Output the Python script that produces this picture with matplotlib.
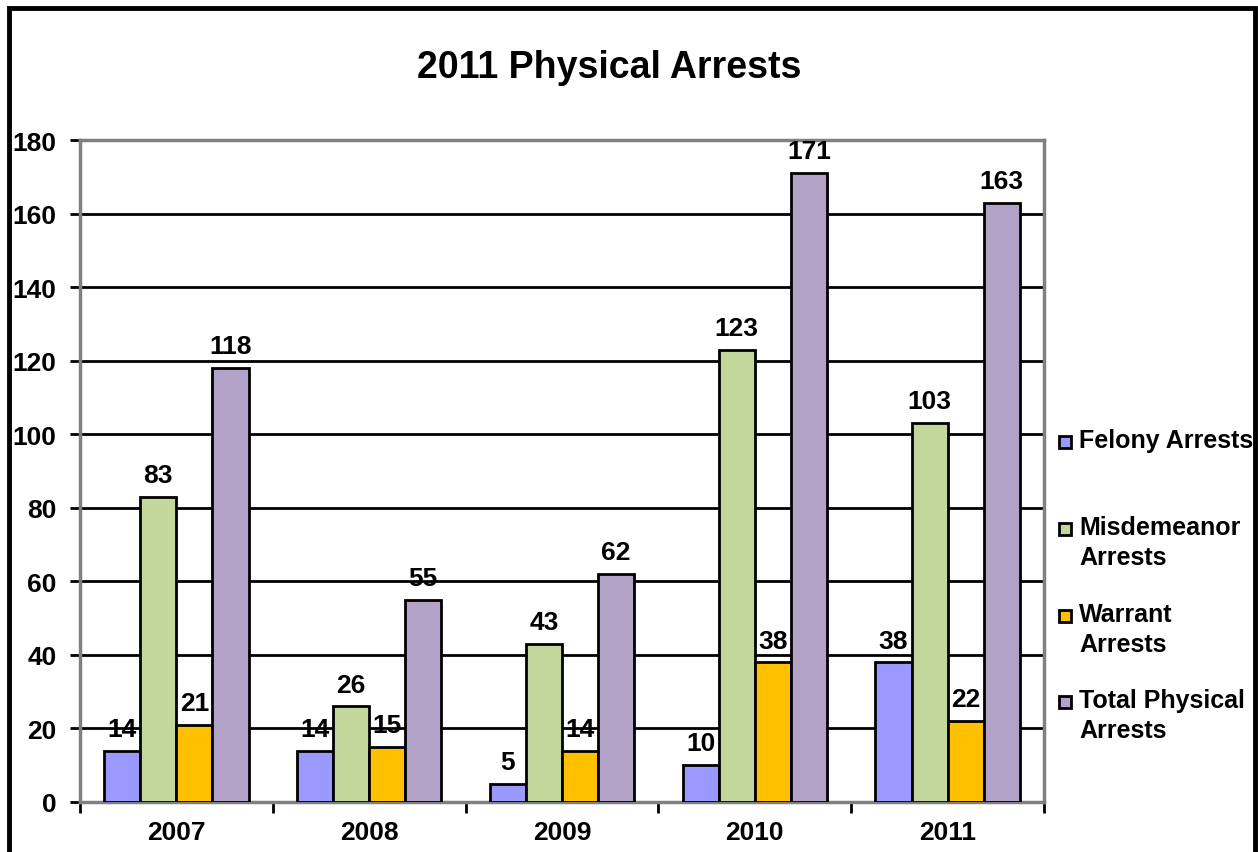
import matplotlib.pyplot as plt
import numpy as np
from matplotlib.patches import Rectangle

years = ["2007", "2008", "2009", "2010", "2011"]
felony = [14, 14, 5, 10, 38]
misdemeanor = [83, 26, 43, 123, 103]
warrant = [21, 15, 14, 38, 22]
total = [118, 55, 62, 171, 163]

series_names = ["Felony Arrests", "Misdemeanor\nArrests", "Warrant\nArrests", "Total Physical\nArrests"]
colors = ["#9999FF", "#C3D69B", "#FFC000", "#B3A2C7"]

plt.rcParams["font.family"] = ["Liberation Sans", "DejaVu Sans"]
plt.rcParams["font.weight"] = "bold"

W, H = 1258, 853
fig = plt.figure(figsize=(W / 100, H / 100), dpi=100)
ax = fig.add_axes([80 / W, 50 / H, 964 / W, 662 / H])

# outer chart border
fig.patches.append(Rectangle((9 / W, -0.05), 1246 / W, 1.05 - 9 / H,
                             transform=fig.transFigure, fill=False,
                             edgecolor="black", linewidth=3.5))

x = np.arange(len(years))
width = 0.187
offsets = [-1.5, -0.5, 0.5, 1.5]
for vals, name, col, off in zip([felony, misdemeanor, warrant, total], series_names, colors, offsets):
    bars = ax.bar(x + off * width, vals, width, color=col, edgecolor="black",
                  linewidth=2, label=name, zorder=3)
    ax.bar_label(bars, padding=7, fontsize=19, fontweight="bold")

ax.set_xlim(-0.5, len(years) - 0.5)
ax.set_ylim(0, 180)
ax.set_yticks(range(0, 181, 20))
ax.yaxis.grid(True, color="black", linewidth=2, zorder=0)
ax.set_xticks(x)
ax.set_xticklabels(years)
ax.set_xticks(np.arange(-0.5, len(years), 1), minor=True)
ax.tick_params(axis="x", which="major", length=0, pad=13, labelsize=19)
ax.tick_params(axis="x", which="minor", length=8, width=2)
ax.tick_params(axis="y", length=7, width=2, labelsize=19, pad=10)
for s in ax.spines.values():
    s.set_color("#808080")
    s.set_linewidth(2.5)

fig.text(609 / W, 1 - 68 / H, "2011 Physical Arrests", ha="center", va="center",
         fontsize=27, fontweight="bold")

# legend entries: (first-line y, label)
legend_rows = [443, 530, 617, 703]
for y0, name, col in zip(legend_rows, series_names, colors):
    fig.patches.append(Rectangle((1059 / W, 1 - (y0 + 6) / H), 12 / W, 12 / H,
                                 transform=fig.transFigure, facecolor=col,
                                 edgecolor="black", linewidth=2))
    fig.text(1079 / W, 1 - (y0 - 14) / H, name, ha="left", va="top",
             fontsize=18, fontweight="bold", linespacing=1.32)

plt.savefig("out.png", dpi=100)
